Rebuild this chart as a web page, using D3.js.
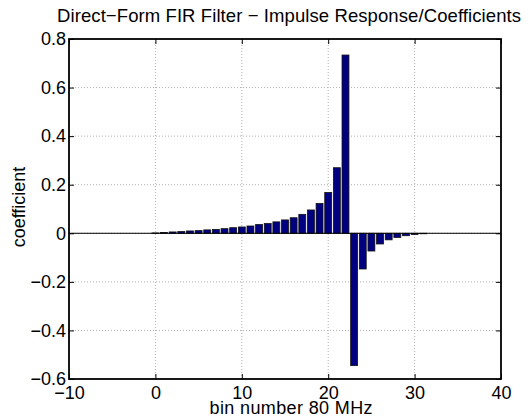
<!DOCTYPE html>
<html><head><meta charset="utf-8">
<script src="https://cdn.jsdelivr.net/npm/d3@7"></script>
<style>body{margin:0;background:#fff;} svg{display:block;font-family:"Liberation Sans",Arial,sans-serif;}</style>
</head><body>
<script>
const taps = d3.range(0, 32);
const coefficients = [0.0014,0.003,0.0055,0.007,0.0096,0.011,0.014,0.016,0.019,0.023,0.026,0.030,0.036,0.040,0.047,0.055,0.064,0.078,0.096,0.123,0.168,0.27,0.734,
  -0.545,-0.147,-0.073,-0.044,-0.027,-0.017,-0.010,-0.005,-0.002];
const xTicks = [-10,0,10,20,30,40];
const yTicks = [-0.6,-0.4,-0.2,0,0.2,0.4,0.6,0.8];
const title = "Direct\u2212Form FIR Filter \u2212 Impulse Response/Coefficients";
const xLabel = "bin number 80 MHz";
const yLabel = "coefficient";

const W=532,H=418;
const m={l:69,r:31,t:39,b:39};
const svg=d3.select("body").append("svg").attr("width",W).attr("height",H);
const x=d3.scaleLinear().domain([-10,40]).range([m.l,W-m.r]);
const y=d3.scaleLinear().domain([-0.6,0.8]).range([H-m.b,m.t]);
const fmt=v=>v===0?"0":(v<0?"\u2212":"")+String(Math.abs(+v.toFixed(1)));

// grid
const g=svg.append("g");
g.selectAll(".gx").data(xTicks.slice(1,-1)).join("line")
 .attr("x1",d=>x(d)).attr("x2",d=>x(d)).attr("y1",y(0.8)).attr("y2",y(-0.6))
 .attr("stroke","#b0b0b0").attr("stroke-dasharray","1,2").attr("stroke-width",1);
g.selectAll(".gy").data(yTicks.slice(1,-1)).join("line")
 .attr("y1",d=>y(d)).attr("y2",d=>y(d)).attr("x1",x(-10)).attr("x2",x(40))
 .attr("stroke","#b0b0b0").attr("stroke-dasharray","1,2").attr("stroke-width",1);

// bars
const bw=x(0.8)-x(0);
svg.append("g").selectAll("rect").data(taps).join("rect")
 .attr("x",d=>x(d)-bw/2).attr("width",bw)
 .attr("y",d=>y(Math.max(0,coefficients[d]))).attr("height",d=>Math.abs(y(coefficients[d])-y(0)))
 .attr("fill","#000080").attr("stroke","#111").attr("stroke-width",0.8);

// baseline
svg.append("line").attr("x1",x(-10)).attr("x2",x(40)).attr("y1",y(0)).attr("y2",y(0)).attr("stroke","#000").attr("stroke-width",1);

// axes
const tl=5;
const ax=svg.append("g");
ax.append("g").attr("transform",`translate(0,${y(-0.6)})`).call(d3.axisBottom(x).tickValues(xTicks).tickSizeInner(-tl).tickSizeOuter(0).tickPadding(7).tickFormat(fmt));
ax.append("g").attr("transform",`translate(0,${y(0.8)})`).call(d3.axisTop(x).tickValues(xTicks).tickSizeInner(-tl).tickSizeOuter(0).tickFormat(""));
ax.append("g").attr("transform",`translate(${x(-10)},0)`).call(d3.axisLeft(y).tickValues(yTicks).tickSizeInner(-tl).tickSizeOuter(0).tickPadding(3).tickFormat(fmt));
ax.append("g").attr("transform",`translate(${x(40)},0)`).call(d3.axisRight(y).tickValues(yTicks).tickSizeInner(-tl).tickSizeOuter(0).tickFormat(""));
ax.selectAll(".domain").remove();
ax.selectAll("text").attr("font-size",18).attr("fill","#000").attr("font-family","'Liberation Sans',Arial,sans-serif");
ax.selectAll("line").attr("stroke","#000");
svg.append("rect").attr("x",x(-10)).attr("y",y(0.8)).attr("width",x(40)-x(-10)).attr("height",y(-0.6)-y(0.8))
 .attr("fill","none").attr("stroke","#000").attr("stroke-width",1.8);

svg.append("text").attr("x",(x(-10)+x(40))/2+4).attr("y",22).attr("text-anchor","middle").attr("font-size",18.5)
 .attr("textLength",464).attr("lengthAdjust","spacing").text(title);
svg.append("text").attr("x",(x(-10)+x(40))/2+6).attr("y",414).attr("text-anchor","middle").attr("font-size",18)
 .attr("textLength",163).attr("lengthAdjust","spacing").text(xLabel);
svg.append("text").attr("transform",`translate(25,${(y(0.8)+y(-0.6))/2-2}) rotate(-90)`).attr("text-anchor","middle").attr("font-size",18).text(yLabel);
</script>
</body></html>
